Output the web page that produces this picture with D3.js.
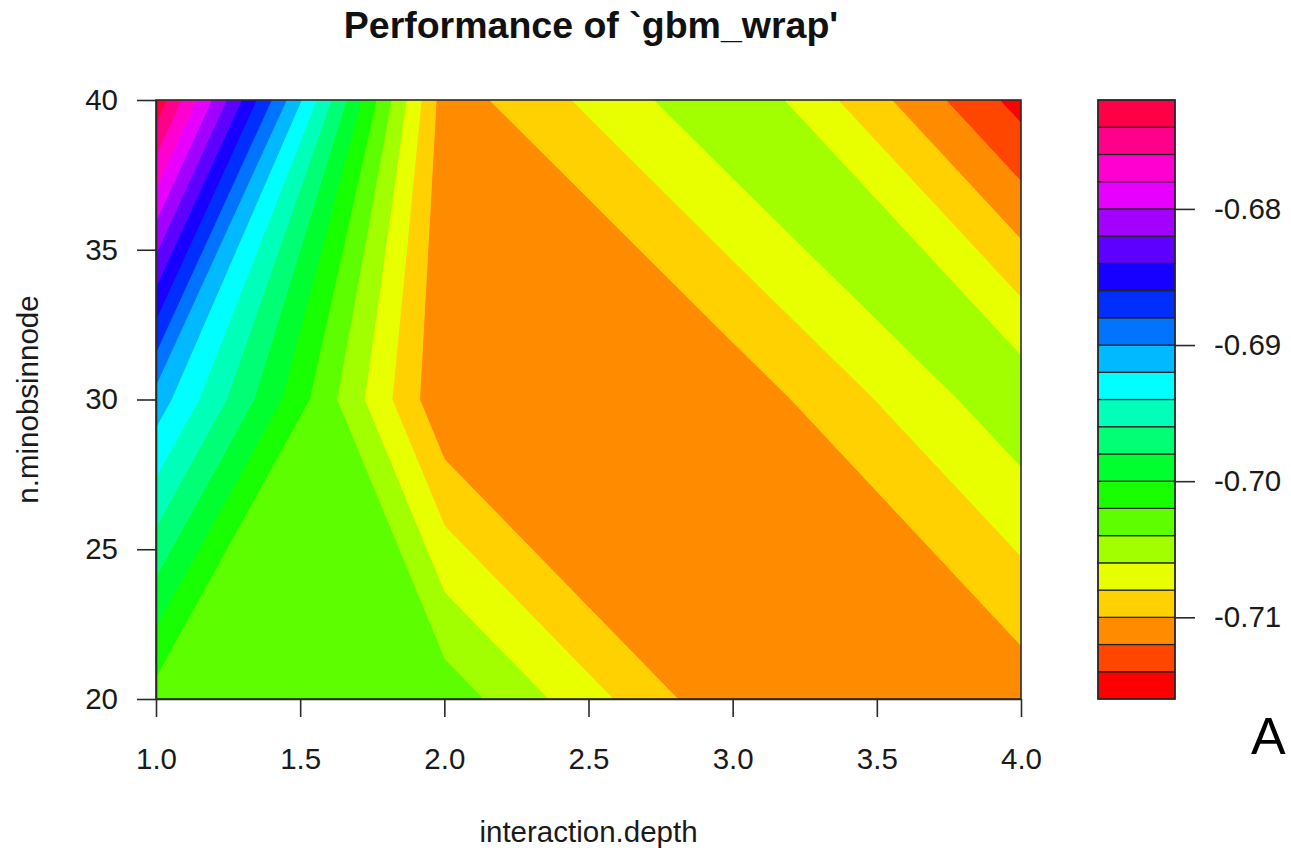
<!DOCTYPE html>
<html>
<head>
<meta charset="utf-8">
<script src="https://cdn.jsdelivr.net/npm/d3@7"></script>
<style>
  html, body { margin: 0; padding: 0; background: #ffffff; }
  svg { display: block; font-family: "Liberation Sans", Arial, Helvetica, sans-serif; }
</style>
</head>
<body>
<svg id="chart" width="1291" height="850"></svg>
<script>
// Tuning grid of the gbm wrapper
const interactionDepth = [1, 2, 3, 4];
const nMinObsInNode = [20, 30, 40];

// Resampled performance, one array per n.minobsinnode value (columns follow interactionDepth)
const perfMinObs20 = [-0.7029, -0.7028, -0.7117, -0.7112];
const perfMinObs30 = [-0.6909, -0.7118, -0.7114, -0.7045];
const perfMinObs40 = [-0.6726, -0.7111, -0.7041, -0.7148];

// Contour levels (step 0.002) and tick labels
const levels = d3.range(23).map(i => (-716 + 2 * i) / 1000);
const xTicks = [1.0, 1.5, 2.0, 2.5, 3.0, 3.5, 4.0];
const yTicks = [20, 25, 30, 35, 40];
const keyTicks = [-0.71, -0.70, -0.69, -0.68];

const titleText = "Performance of `gbm_wrap'";
const xLabel = "interaction.depth";
const yLabel = "n.minobsinnode";
const cornerText = "A";

const zGrid = [perfMinObs20, perfMinObs30, perfMinObs40];

// rainbow palette, lowest band red
const nBands = levels.length - 1;
const bandColors = d3.range(nBands).map(i => d3.hsl(360 * i / nBands, 1, 0.5).formatHex());

const svg = d3.select("#chart");
const plot = { left: 156, right: 1021, top: 100, bottom: 699 };
const key = { left: 1098, right: 1175, top: 100, bottom: 699 };
const fontSize = 29.5;
const ink = "#2a2a2a";

const x = d3.scaleLinear().domain([1, 4]).range([plot.left, plot.right]);
const y = d3.scaleLinear().domain([20, 40]).range([plot.bottom, plot.top]);
const zKey = d3.scaleLinear().domain([levels[0], levels[levels.length - 1]]).range([key.bottom, key.top]);

// Polygon of one band inside one grid cell: walk the cell edges, keeping
// corners inside the band and the linearly interpolated level crossings.
function bandPolygon(ci, cj, lo, hi) {
  const corners = [[ci, cj], [ci + 1, cj], [ci + 1, cj + 1], [ci, cj + 1]]
    .map(([i, j]) => ({ gx: interactionDepth[i], gy: nMinObsInNode[j], z: zGrid[j][i] }));
  const pts = [];
  for (let k = 0; k < 4; k++) {
    const a = corners[k], b = corners[(k + 1) % 4];
    if (a.z >= lo && a.z < hi) pts.push([a.gx, a.gy]);
    const ts = [];
    [lo, hi].forEach(L => {
      if ((a.z - L) * (b.z - L) < 0) ts.push((L - a.z) / (b.z - a.z));
    });
    ts.sort((p, q) => p - q).forEach(t => {
      pts.push([a.gx + t * (b.gx - a.gx), a.gy + t * (b.gy - a.gy)]);
    });
  }
  return pts.length >= 3 ? pts : null;
}

svg.append("defs").append("clipPath").attr("id", "plotClip")
  .append("rect")
  .attr("x", plot.left).attr("y", plot.top)
  .attr("width", plot.right - plot.left).attr("height", plot.bottom - plot.top);

const fillLayer = svg.append("g").attr("clip-path", "url(#plotClip)");
const line = d3.line().x(d => x(d[0])).y(d => y(d[1]));

for (let b = 0; b < nBands; b++) {
  const lo = levels[b], hi = levels[b + 1];
  for (let j = 0; j < nMinObsInNode.length - 1; j++) {
    for (let i = 0; i < interactionDepth.length - 1; i++) {
      const poly = bandPolygon(i, j, lo, hi);
      if (!poly) continue;
      fillLayer.append("path")
        .attr("d", line(poly) + "Z")
        .attr("fill", bandColors[b])
        .attr("stroke", bandColors[b])
        .attr("stroke-width", 1)
        .attr("stroke-linejoin", "round");
    }
  }
}

// plot box
svg.append("rect")
  .attr("x", plot.left).attr("y", plot.top)
  .attr("width", plot.right - plot.left).attr("height", plot.bottom - plot.top)
  .attr("fill", "none").attr("stroke", ink).attr("stroke-width", 1.6);

// axes
function styleAxis(g) {
  g.selectAll("path.domain").attr("stroke", ink).attr("stroke-width", 1.6);
  g.selectAll(".tick line").attr("stroke", ink).attr("stroke-width", 1.6);
  g.selectAll(".tick text").attr("fill", "#1a1a1a")
    .style("font-size", fontSize + "px")
    .style("font-family", "'Liberation Sans', Arial, sans-serif");
}

const xAxis = svg.append("g")
  .attr("transform", `translate(0,${plot.bottom})`)
  .call(d3.axisBottom(x).tickValues(xTicks).tickFormat(d => d.toFixed(1))
    .tickSize(18).tickSizeOuter(0).tickPadding(31));
styleAxis(xAxis);

const yAxis = svg.append("g")
  .attr("transform", `translate(${plot.left},0)`)
  .call(d3.axisLeft(y).tickValues(yTicks).tickFormat(d => String(d))
    .tickSize(19).tickSizeOuter(0).tickPadding(19));
styleAxis(yAxis);

// colour key
const keyG = svg.append("g");
for (let b = 0; b < nBands; b++) {
  keyG.append("rect")
    .attr("x", key.left)
    .attr("y", zKey(levels[b + 1]))
    .attr("width", key.right - key.left)
    .attr("height", zKey(levels[b]) - zKey(levels[b + 1]))
    .attr("fill", bandColors[b])
    .attr("stroke", "#222")
    .attr("stroke-width", 1.2);
}
keyG.append("rect")
  .attr("x", key.left).attr("y", key.top)
  .attr("width", key.right - key.left).attr("height", key.bottom - key.top)
  .attr("fill", "none").attr("stroke", ink).attr("stroke-width", 1.6);

const keyAxis = svg.append("g")
  .attr("transform", `translate(${key.right},0)`)
  .call(d3.axisRight(zKey).tickValues(keyTicks).tickFormat(d => d.toFixed(2))
    .tickSize(20).tickSizeOuter(0).tickPadding(19));
styleAxis(keyAxis);
keyAxis.select("path.domain").remove();

// titles
svg.append("text")
  .attr("x", 591).attr("y", 38)
  .attr("text-anchor", "middle")
  .style("font-size", "37.5px").style("font-weight", "bold")
  .attr("fill", "#111")
  .text(titleText);

svg.append("text")
  .attr("x", (plot.left + plot.right) / 2).attr("y", 842)
  .attr("text-anchor", "middle")
  .style("font-size", fontSize + "px")
  .attr("fill", "#1a1a1a")
  .text(xLabel);

svg.append("text")
  .attr("transform", `translate(38,${(plot.top + plot.bottom) / 2}) rotate(-90)`)
  .attr("text-anchor", "middle")
  .style("font-size", fontSize + "px")
  .attr("fill", "#1a1a1a")
  .text(yLabel);

svg.append("text")
  .attr("x", 1251).attr("y", 754)
  .style("font-size", "52px")
  .attr("fill", "#000")
  .text(cornerText);
</script>
</body>
</html>
